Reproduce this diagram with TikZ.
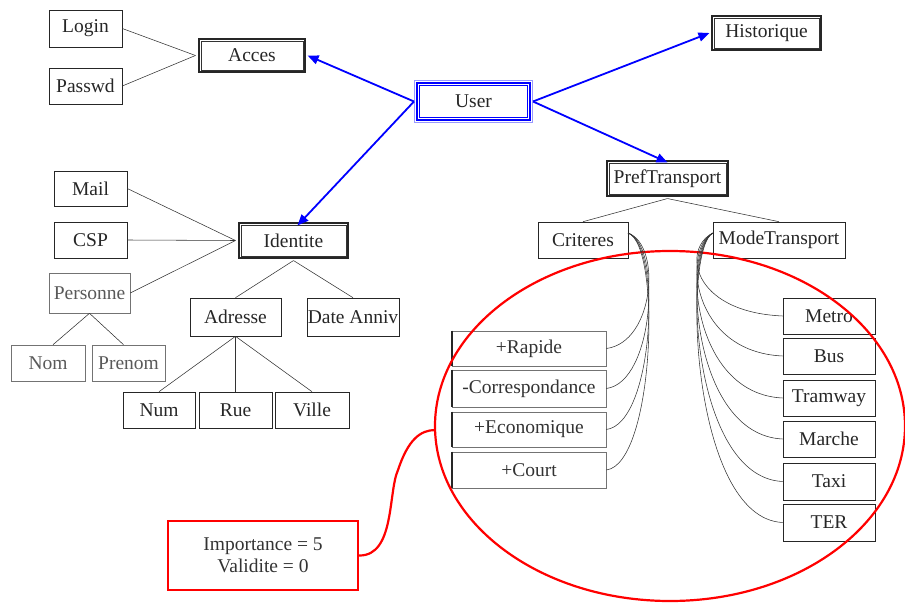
\documentclass[tikz,border=0pt]{standalone}
\usepackage{fontspec}
\setmainfont{Liberation Serif}
\usetikzlibrary{arrows.meta,calc}
\newcommand\fsz{\fontsize{19.5}{22}\selectfont}
\begin{document}
\begin{tikzpicture}[x=1pt,y=-1pt,
  box/.style={draw=black!85, line width=0.6pt, inner sep=0pt, font=\fsz, text=black!85},
  gbox/.style={box, draw=black!55, text=black!65},
  dbox/.style={box, draw=black!85, line width=1.1pt},
  dline/.style={black!80, line width=0.6pt},
  ubox/.style={box, draw=blue, line width=2pt},
  uline/.style={blue, line width=0.8pt},
  bar/.style={line width=1.8pt, black!85},
  link/.style={black!80, line width=0.55pt},
  barr/.style={blue, line width=1.8pt, -{Triangle[length=11pt,width=9pt]}},
  rbox/.style={draw=red, line width=2.4pt, inner sep=0pt, font=\fsz, text=black!80, align=center},
  rline/.style={red, line width=2.2pt}]
\useasboundingbox (0,0) rectangle (905,604);
% nodes
\node[box, minimum width=73, minimum height=37] (login) at (85.5,28.5) {Login};
\node[box, minimum width=73, minimum height=36] (passwd) at (85.5,86) {Passwd};
\node[dbox, minimum width=106, minimum height=33] (acces) at (252,55.5) {Acces};
\node[ubox, minimum width=113, minimum height=37] (user) at (473.5,101.5) {User};
\node[dbox, minimum width=109, minimum height=34] (hist) at (766.5,33) {Historique};
\node[dbox, minimum width=121, minimum height=35] (pref) at (667.5,178.5) {PrefTransport};
\node[box, minimum width=90, minimum height=36] (crit) at (583,240) {Criteres};
\node[box, minimum width=132, minimum height=36] (mode) at (779,240) {ModeTransport};
\node[box, minimum width=73, minimum height=35] (mail) at (90.5,188.5) {Mail};
\node[box, minimum width=73, minimum height=36] (csp) at (90.5,240) {CSP};
\node[gbox, minimum width=81, minimum height=40] (pers) at (89.5,293) {Personne};
\node[dbox, minimum width=109, minimum height=35] (ident) at (293.5,240.5) {Identite};
\node[box, minimum width=91, minimum height=38] (adr) at (235.5,317) {Adresse};
\node[box, minimum width=92, minimum height=38] (date) at (353,317) {Date Anniv};
\node[gbox, minimum width=74, minimum height=36] (nom) at (48,363) {Nom};
\node[gbox, minimum width=73, minimum height=36] (prenom) at (128.5,363) {Prenom};
\node[box, minimum width=72, minimum height=36] (num) at (159,410) {Num};
\node[box, minimum width=73, minimum height=36] (rue) at (235.5,410) {Rue};
\node[box, minimum width=74, minimum height=36] (ville) at (312,410) {Ville};
% inner frames of double boxes
\foreach \b in {acces,hist,pref,ident}
  \draw[dline] ([shift={(2.6,2.6)}]\b.north west) rectangle ([shift={(-2.6,-2.6)}]\b.south east);
\draw[uline] ([shift={(3.2,3.2)}]user.north west) rectangle ([shift={(-3.2,-3.2)}]user.south east);
\draw[blue!40, line width=0.6pt] ([shift={(-1.6,-1.6)}]user.north west) rectangle ([shift={(1.6,1.6)}]user.south east);
% criteres boxes
\node[gbox, text=black!80, minimum width=154, minimum height=35] (rap) at (529,348.5) {+Rapide};
\node[gbox, text=black!80, minimum width=154, minimum height=37] (cor) at (529,388.5) {-Correspondance};
\node[gbox, text=black!80, minimum width=154, minimum height=35] (eco) at (529,429.5) {+Economique};
\node[gbox, text=black!80, minimum width=154, minimum height=36] (court) at (529,470) {+Court};
\foreach \b in {rap,cor,eco,court} \draw[bar] (\b.north west) -- (\b.south west);
% mode boxes
\node[box, minimum width=92, minimum height=36] (metro) at (829,316) {Metro};
\node[box, minimum width=92, minimum height=36] (bus) at (829,356) {Bus};
\node[box, minimum width=92, minimum height=36] (tram) at (829,398) {Tramway};
\node[box, minimum width=92, minimum height=36] (marche) at (829,439) {Marche};
\node[box, minimum width=92, minimum height=37] (taxi) at (829,481.5) {Taxi};
\node[box, minimum width=92, minimum height=37] (ter) at (829,522.5) {TER};
% red items
\node[rbox, minimum width=190, minimum height=69] (note) at (263,555.5) {Importance = 5\\Validite = 0};
\draw[rline] (670,426) ellipse [x radius=235, y radius=175];
\coordinate (ep) at (435.5,430);
\draw[rline] (note.east) .. controls (395,556) and (388,492) .. (398,470) .. controls (408,440) and (420,430) .. (ep);
% blue arrows
\draw[barr] ([xshift=-2]user.west) -- ([xshift=2]acces.east);
\draw[barr] ([xshift=-2]user.west) -- ([xshift=4,yshift=-3]ident.north);
\draw[barr] ([xshift=2]user.east) -- ([xshift=-2]hist.west);
\draw[barr] ([xshift=2]user.east) -- ([yshift=-2]pref.north);
% black links
\draw[link] (login.east) -- ([xshift=-3]acces.west);
\draw[link] (passwd.east) -- ([xshift=-3]acces.west);
\draw[link] (mail.east) -- ([xshift=-3]ident.west);
\draw[link] (csp.east) -- ([xshift=-3]ident.west);
\draw[link] (pers.east) -- ([xshift=-3]ident.west);
\draw[link] ([yshift=-2]ident.south) -- (adr.north);
\draw[link] ([yshift=-2]ident.south) -- (date.north);
\draw[link] (pers.south) -- ([xshift=5]nom.north);
\draw[link] (pers.south) -- ([xshift=-5]prenom.north);
\draw[link] (adr.south) -- (num.north);
\draw[link] (adr.south) -- (rue.north);
\draw[link] (adr.south) -- (ville.north);
\draw[link] ([yshift=-2]pref.south) -- (crit.north);
\draw[link] ([yshift=-2]pref.south) -- (mode.north);
% curves
\coordinate (cs) at (628,233);
\coordinate (ms) at (713,233);
\foreach \b in {rap,cor,eco,court}
  \draw[link] (cs) .. controls (662,245) and ($(\b.east)+(48,-6)$) .. (\b.east);
\foreach \b in {metro,bus,tram,marche,taxi,ter}
  \draw[link] (ms) .. controls (682,248) and ($(\b.west)+(-92,-4)$) .. (\b.west);
\end{tikzpicture}
\end{document}
